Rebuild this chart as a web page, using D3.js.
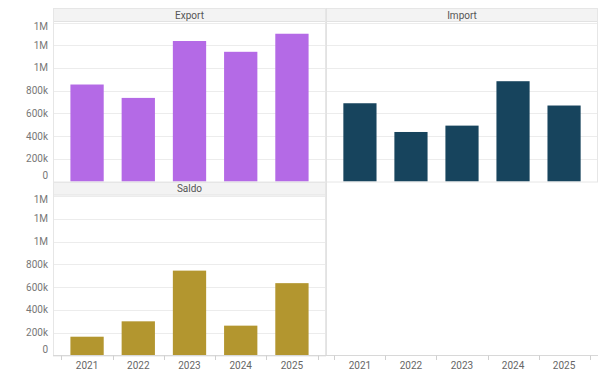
<!DOCTYPE html>
<html><head><meta charset="utf-8">
<script src="https://cdn.jsdelivr.net/npm/d3@7"></script>
<style>body{margin:0;background:#fff}svg{display:block;font-family:Roboto,"Noto Sans",sans-serif}</style>
</head><body><svg id="c" width="603" height="372"></svg>
<script>
const years = ["2021","2022","2023","2024","2025"];
const exportVals = [854000, 736000, 1237000, 1142000, 1301000];
const importVals = [689000, 436000, 492000, 883000, 669000];
const saldoVals = [165000, 300000, 745000, 262000, 635000];
const yTicks = [0, 200000, 400000, 600000, 800000, 1000000, 1200000, 1400000];
const panelTitles = ["Export", "Import", "Saldo"];
const colors = ["#b46ae6", "#17445d", "#b3962f"];

const svg = d3.select("#c");
const fmt = v => v === 0 ? "0" : v >= 1e6 ? Math.round(v/1e6) + "M" : Math.round(v/1000) + "k";

const cols = [[53, 326], [326, 598]];
const rows = [{head: 8, top: 22, bottom: 181.5}, {head: 182, top: 195.5, bottom: 355.5}];

const panels = [
  {title: panelTitles[0], vals: exportVals, color: colors[0], c: 0, r: 0, yaxis: true},
  {title: panelTitles[1], vals: importVals, color: colors[1], c: 1, r: 0, yaxis: false},
  {title: panelTitles[2], vals: saldoVals, color: colors[2], c: 0, r: 1, yaxis: true}
];

const grid = svg.append("g");
const marks = svg.append("g");
const over = svg.append("g");

panels.forEach(p => {
  const [x0, x1] = cols[p.c];
  const R = rows[p.r];
  const x = d3.scaleBand().domain(years).range([x0, x1]).paddingInner(0.35).paddingOuter(0.34);
  const y = d3.scaleLinear().domain([0, 1400000]).range([R.bottom, R.top + 0.5]);
  // gridlines
  grid.selectAll(null).data(yTicks.slice(1)).join("line")
    .attr("x1", x0).attr("x2", x1).attr("y1", d => Math.round(y(d)) + 0.5).attr("y2", d => Math.round(y(d)) + 0.5)
    .attr("stroke", "#ececec").attr("stroke-width", 1);
  // bars
  marks.selectAll(null).data(p.vals).join("rect")
    .attr("x", (d, i) => x(years[i])).attr("width", x.bandwidth())
    .attr("y", d => y(d)).attr("height", d => y(0) - y(d))
    .attr("fill", p.color);
  // header
  over.append("rect").attr("x", x0 + 0.5).attr("y", R.head + 0.5).attr("width", x1 - x0 - 1).attr("height", R.top - R.head - 1)
    .attr("fill", "#f3f3f3").attr("stroke", "#e2e2e2");
  over.append("text").attr("x", (x0 + x1) / 2).attr("y", (R.head + R.top) / 2 + 3.5)
    .attr("text-anchor", "middle").attr("font-size", 10).attr("fill", "#555").text(p.title);
  // panel border
  over.append("rect").attr("x", x0 + 0.5).attr("y", R.head + 0.5).attr("width", x1 - x0 - 1).attr("height", R.bottom - R.head)
    .attr("fill", "none").attr("stroke", "#e6e6e6");
  if (p.yaxis) {
    over.selectAll(null).data(yTicks).join("text")
      .attr("x", 48).attr("y", d => Math.min(Math.max(y(d), R.top + 4), R.bottom - 6.5) + 3.5)
      .attr("text-anchor", "end").attr("font-size", 10).attr("fill", "#777").text(fmt);
  }
});

// bottom-right empty panel border and full x axes
over.append("line").attr("x1", 326.5).attr("x2", 326.5).attr("y1", 8).attr("y2", 355.5).attr("stroke", "#e2e2e2");
over.append("line").attr("x1", 53).attr("x2", 598).attr("y1", 355.5).attr("y2", 355.5).attr("stroke", "#d8d8d8");
cols.forEach(([x0, x1]) => {
  const x = d3.scaleBand().domain(years).range([x0, x1]).paddingInner(0.35).paddingOuter(0.34);
  const edges = years.map(d => x(d) + x.bandwidth() / 2 - x.step() / 2).concat([x(years[4]) + x.bandwidth() / 2 + x.step() / 2]);
  over.selectAll(null).data(edges).join("line")
    .attr("x1", d => Math.round(d) + 0.5).attr("x2", d => Math.round(d) + 0.5).attr("y1", 355.5).attr("y2", 360)
    .attr("stroke", "#d0d0d0");
  over.selectAll(null).data(years).join("text")
    .attr("x", d => x(d) + x.bandwidth() / 2).attr("y", 369)
    .attr("text-anchor", "middle").attr("font-size", 10).attr("fill", "#666").text(d => d);
});
</script></body></html>
